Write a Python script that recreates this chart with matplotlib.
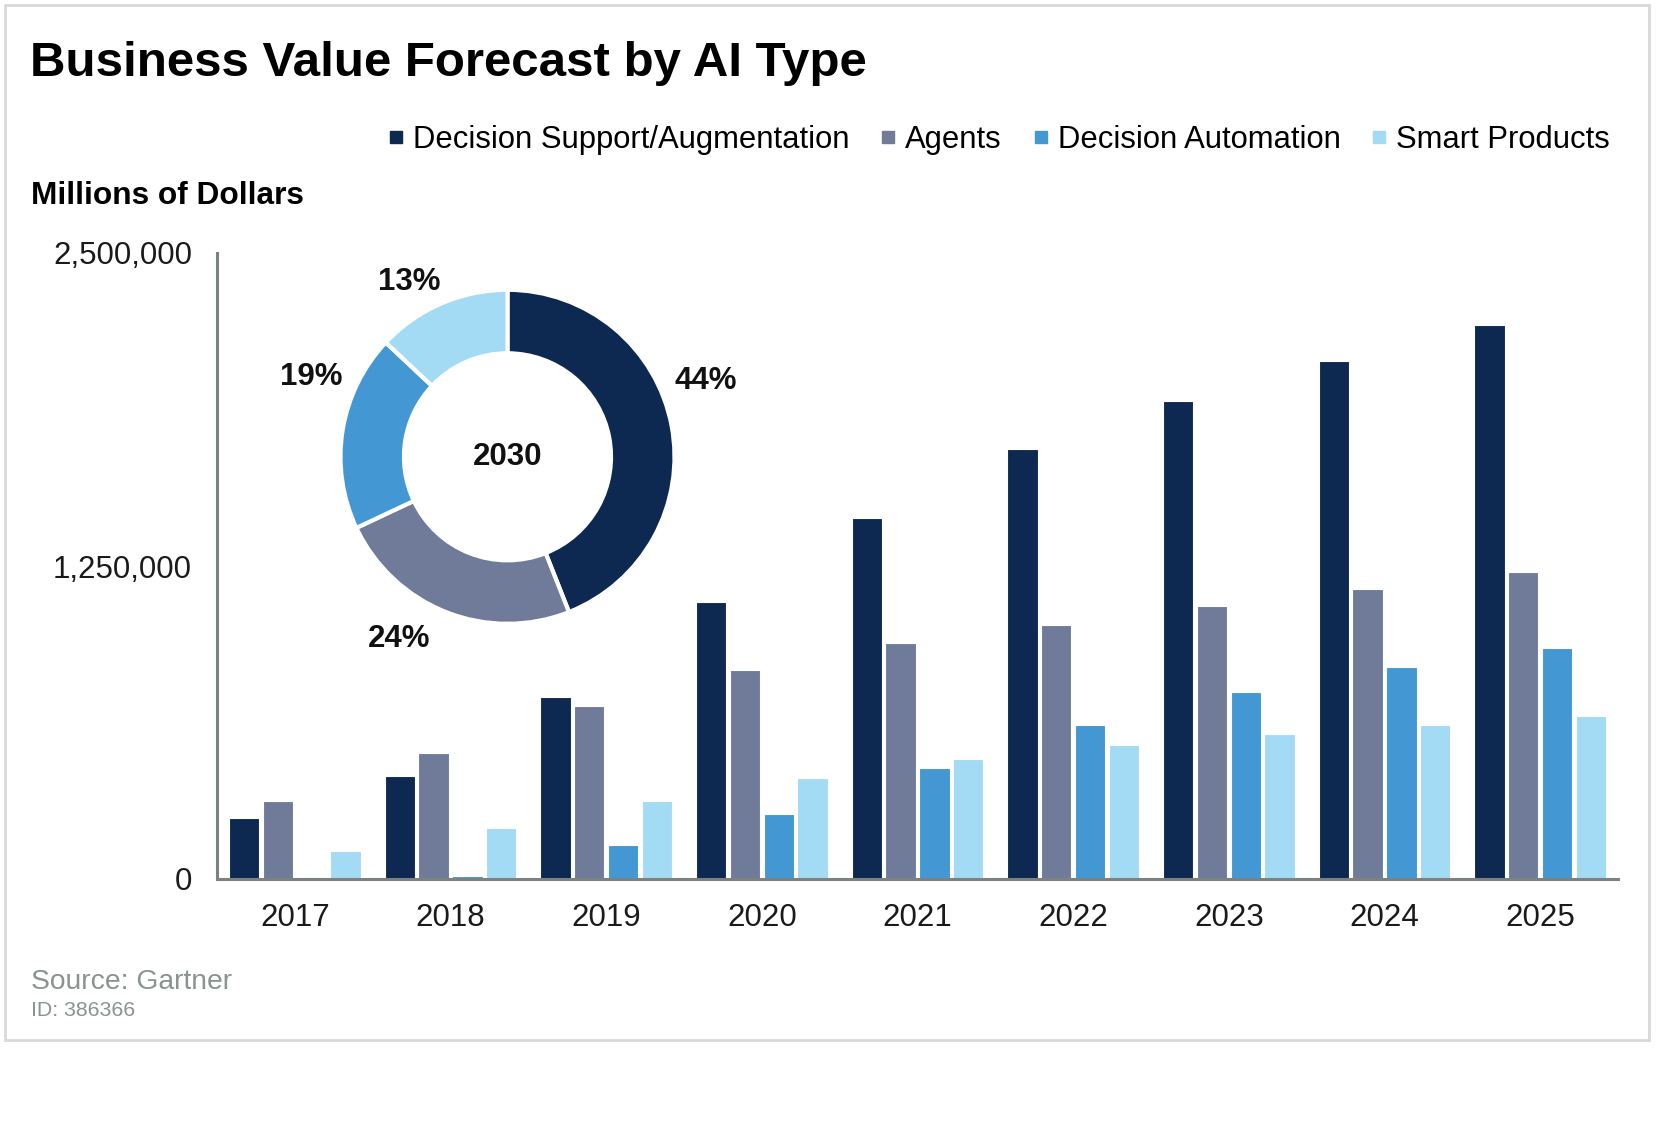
import numpy as np
import matplotlib
matplotlib.use("Agg")
import matplotlib.pyplot as plt
from matplotlib.lines import Line2D
from matplotlib.patches import Rectangle
from matplotlib.ticker import FuncFormatter

plt.rcParams['font.family'] = ['Liberation Sans', 'DejaVu Sans']

# data
years = ['2017', '2018', '2019', '2020', '2021', '2022', '2023', '2024', '2025']
series = ['Decision Support/Augmentation', 'Agents', 'Decision Automation', 'Smart Products']
decision_support = [245000, 413000, 725000, 1105000, 1442000, 1716000, 1910000, 2070000, 2213000]
agents = [312000, 502000, 691000, 835000, 944000, 1016000, 1092000, 1159000, 1227000]
decision_automation = [0, 13000, 135000, 261000, 443000, 616000, 746000, 847000, 923000]
smart_products = [110000, 202000, 312000, 405000, 481000, 535000, 578000, 616000, 649000]
share_2030 = [44, 24, 19, 13]
y_ticks = [0, 1250000, 2500000]

colors = ['#0d2851', '#6f7b99', '#4398d3', '#a3daf4']

fig = plt.figure(figsize=(16.58, 11.24), dpi=100)
W, H = 1658, 1124

# outer frame
fig.patches.append(Rectangle((5 / W, 1 - 1040 / H), 1644 / W, 1035 / H,
                             transform=fig.transFigure, fill=False,
                             edgecolor='#d9d9d9', linewidth=2))

ax = fig.add_axes([217 / W, 1 - 879 / H, (1618 - 217) / W, (879 - 253) / H])
x = np.arange(len(years))
step = 0.217
bw = 0.195
all_vals = [decision_support, agents, decision_automation, smart_products]
for i, (vals, c) in enumerate(zip(all_vals, colors)):
    ax.bar(x + (i - 1.5) * step, vals, width=bw, color=c, edgecolor='white',
           linewidth=0.8, zorder=2)

ax.set_xlim(-0.5, len(years) - 0.5)
ax.set_ylim(0, 2500000)
ax.set_yticks(y_ticks)
ax.yaxis.set_major_formatter(FuncFormatter(lambda v, p: f'{int(v):,}'))
ax.set_xticks(x)
ax.set_xticklabels(years)
ax.tick_params(axis='both', length=0, labelsize=22.5, colors='#1a1a1a')
ax.tick_params(axis='y', pad=18)
ax.tick_params(axis='x', pad=17.5)
for s in ['top', 'right']:
    ax.spines[s].set_visible(False)
for s in ['left', 'bottom']:
    ax.spines[s].set_color('#7a8282')
    ax.spines[s].set_linewidth(2.2)

# donut inset
R = 167
cx, cy = 507.5, 456.8
span = 1.5
pax = fig.add_axes([(cx - R * span) / W, 1 - (cy + R * span) / H,
                    2 * R * span / W, 2 * R * span / H])
wedges, _ = pax.pie(share_2030, colors=colors, startangle=90, counterclock=False,
                    wedgeprops=dict(width=0.38, edgecolor='white', linewidth=3))
pax.set_xlim(-span, span)
pax.set_ylim(-span, span)
pax.set_aspect('equal')
pax.axis('off')
nudge = [10, -9, -13, 6]
dist = [1.27, 1.27, 1.27, 1.2]
for w, v, d, r in zip(wedges, share_2030, nudge, dist):
    ang = np.deg2rad((w.theta1 + w.theta2) / 2 + d)
    pax.text(r * np.cos(ang), r * np.sin(ang), f'{v}%', ha='center',
             va='center', fontsize=22.5, fontweight='bold', color='#111111')
pax.text(0, 0, '2030', ha='center', va='center', fontsize=22.5,
         fontweight='bold', color='#111111')

# texts
fig.text(30 / W, 1 - 64 / H, 'Business Value Forecast by AI Type', fontsize=35.5,
         fontweight='bold', va='center', ha='left', color='black')
fig.text(31 / W, 1 - 196 / H, 'Millions of Dollars', fontsize=22.8,
         fontweight='bold', va='center', ha='left', color='black')
fig.text(31 / W, 1 - 982 / H, 'Source: Gartner', fontsize=20.3,
         va='center', ha='left', color='#8a9292')
fig.text(31 / W, 1 - 1011 / H, 'ID: 386366', fontsize=15.3,
         va='center', ha='left', color='#8a9292')

handles = [Line2D([], [], marker='s', linestyle='', color=c, markersize=9)
           for c in colors]
fig.legend(handles, series, loc='center right', ncol=4, frameon=False,
           bbox_to_anchor=(1610 / W, 1 - 140 / H), fontsize=22.3,
           handlelength=0.5, handletextpad=0.3, columnspacing=1.0,
           borderpad=0, borderaxespad=0)

fig.savefig('out.png', dpi=100, facecolor='white')
